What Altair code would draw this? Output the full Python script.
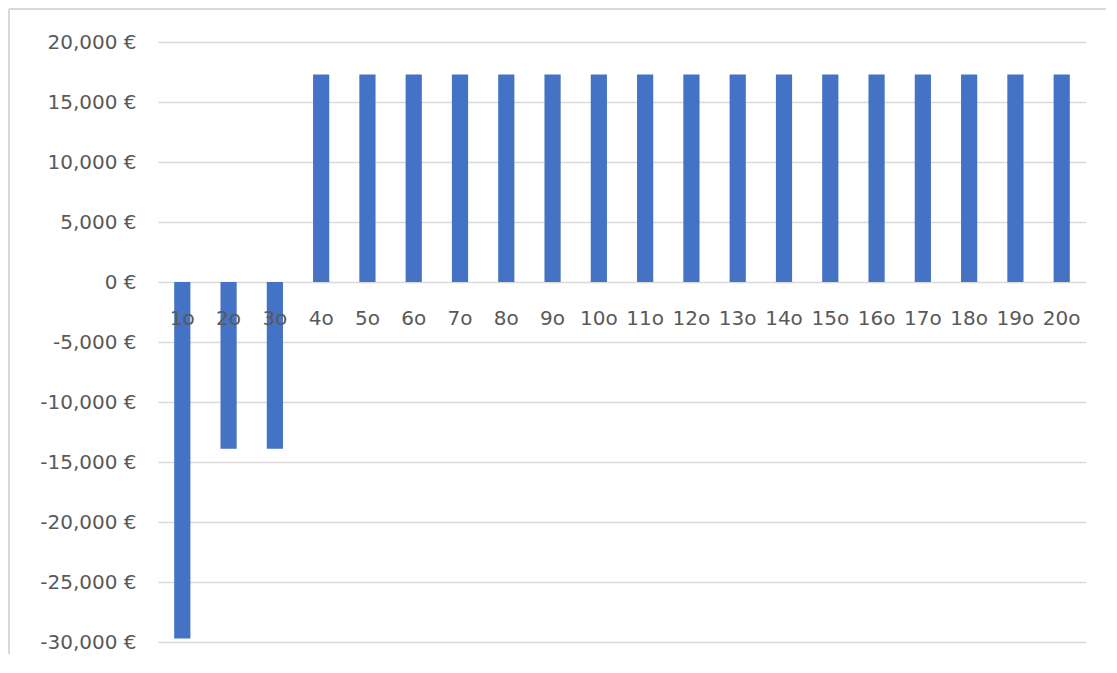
import altair as alt
import pandas as pd

categories = [f"{i}o" for i in range(1, 21)]
values = [-29700, -13900, -13900] + [17300] * 17
y_ticks = [-30000, -25000, -20000, -15000, -10000, -5000, 0, 5000, 10000, 15000, 20000]

df = pd.DataFrame({"cat": categories, "val": values})

FONT = "DejaVu Sans"
GRAY = "#595959"

xscale = alt.Scale(domain=categories, paddingInner=0.65, paddingOuter=0.35)
yscale = alt.Scale(domain=[-30000, 20000], nice=False, zero=False)

yaxis = alt.Axis(
    values=y_ticks,
    labelExpr="replace(format(datum.value, ','), '−', '-') + ' €'",
    grid=True,
    gridColor="#D9D9D9",
    gridWidth=1.5,
    domain=False,
    ticks=False,
    labelPadding=22,
    labelFont=FONT,
    labelFontSize=20,
    labelColor=GRAY,
    title=None,
)

base = alt.Chart(df)

bars = base.mark_bar(color="#4472C4").encode(
    x=alt.X("cat:N", scale=xscale, axis=None, sort=categories),
    y=alt.Y("val:Q", scale=yscale, title=None, axis=yaxis),
)

labels = base.mark_text(
    font=FONT, fontSize=20, color=GRAY, dy=37, baseline="middle"
).encode(
    x=alt.X("cat:N", scale=xscale, axis=None, sort=categories),
    y=alt.Y(datum=0, scale=yscale, axis=yaxis),
    text="cat:N",
)

# light frame of the chart area (top and left edges, as in the cropped screenshot)
frame_top = alt.Chart(pd.DataFrame({"k": [0]})).mark_rule(
    color="#D9D9D9", strokeWidth=2
).encode(x=alt.value(-149), x2=alt.value(960), y=alt.value(-33))
frame_left = alt.Chart(pd.DataFrame({"k": [0]})).mark_rule(
    color="#D9D9D9", strokeWidth=2
).encode(x=alt.value(-149), y=alt.value(-33), y2=alt.value(660))

chart = (
    alt.layer(bars, labels, frame_top, frame_left)
    .properties(
        width=928,
        height=600,
        background="white",
        autosize=alt.AutoSizeParams(type="none"),
        padding={"left": 150, "top": 34, "right": 20, "bottom": 12},
    )
    .configure_view(strokeWidth=0, stroke=None)
)

chart.save("out.html", embed_options={"renderer": "svg", "actions": False})
